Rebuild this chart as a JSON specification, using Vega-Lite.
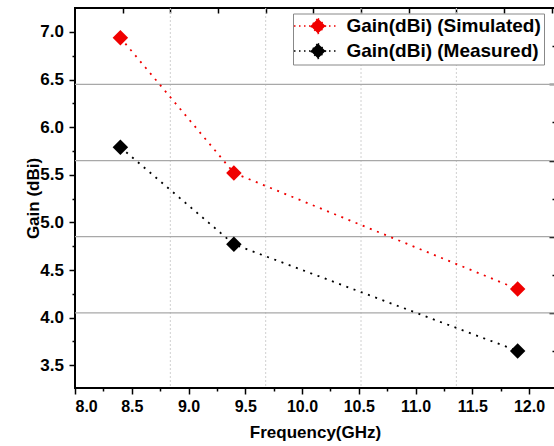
{
  "$schema": "https://vega.github.io/schema/vega-lite/v6.json",
  "width": 480,
  "height": 380,
  "autosize": {"type": "none"},
  "padding": {"left": 75, "top": 8, "right": 0, "bottom": 58},
  "background": "white",
  "config": {
    "view": {"stroke": "black", "strokeWidth": 2},
    "font": "Liberation Sans",
    "axis": {
      "labelFont": "Liberation Sans",
      "labelFontWeight": "bold",
      "labelColor": "black",
      "titleFont": "Liberation Sans",
      "titleFontWeight": "bold",
      "titleColor": "black",
      "domain": false,
      "tickColor": "black",
      "tickWidth": 1.5,
      "grid": false
    },
    "legend": {
      "orient": "none",
      "legendX": 218,
      "legendY": 5.5,
      "strokeColor": "#888888",
      "fillColor": "white",
      "padding": 3,
      "rowPadding": 4,
      "symbolOffset": 12.5,
      "symbolOpacity": 1,
      "symbolStrokeWidth": 1.5,
      "symbolDash": [1.5, 3.5],
      "labelOffset": 19,
      "labelFont": "Liberation Sans",
      "labelFontWeight": "bold",
      "labelFontSize": 19,
      "labelColor": "black",
      "labelLimit": 0
    }
  },
  "datasets": {
    "gain": [
      {"Frequency": 8.4, "Gain": 6.94, "Series": "Gain(dBi) (Simulated)"},
      {"Frequency": 9.4, "Gain": 5.52, "Series": "Gain(dBi) (Simulated)"},
      {"Frequency": 11.9, "Gain": 4.3, "Series": "Gain(dBi) (Simulated)"},
      {"Frequency": 8.4, "Gain": 5.79, "Series": "Gain(dBi) (Measured)"},
      {"Frequency": 9.4, "Gain": 4.77, "Series": "Gain(dBi) (Measured)"},
      {"Frequency": 11.9, "Gain": 3.65, "Series": "Gain(dBi) (Measured)"}
    ],
    "vgrid": [{"f": 8.84}, {"f": 9.68}, {"f": 10.52}, {"f": 11.36}],
    "hgrid": [{"g": 6.45}, {"g": 5.65}, {"g": 4.85}, {"g": 4.05}]
  },
  "layer": [
    {
      "data": {"name": "vgrid"},
      "mark": {"type": "rule", "color": "#d0d0d0", "strokeDash": [2, 2], "strokeWidth": 1},
      "encoding": {
        "x": {
          "field": "f", "type": "quantitative",
          "scale": {"domain": [8, 12.229], "nice": false, "zero": false},
          "axis": {
            "orient": "top",
            "values": [8.42, 8.84, 9.26, 9.68, 10.1, 10.52, 10.94, 11.36, 11.78, 12.2],
            "labels": false, "title": null, "tickSize": -5
          }
        }
      }
    },
    {
      "data": {"name": "hgrid"},
      "mark": {"type": "rule", "color": "#a8a8a8", "strokeWidth": 1.3},
      "encoding": {
        "y": {
          "field": "g", "type": "quantitative",
          "scale": {"domain": [3.261, 7.252], "nice": false, "zero": false},
          "axis": {
            "orient": "right",
            "values": [6.85, 6.45, 6.05, 5.65, 5.25, 4.85, 4.45, 4.05, 3.65],
            "labels": false, "title": null,
            "tickSize": {"condition": {"test": "indexof([6.45, 5.65, 4.85, 4.05], datum.value) >= 0", "value": -6}, "value": -3}
          }
        }
      }
    },
    {
      "data": {"name": "gain"},
      "mark": {"type": "line", "strokeDash": [2, 5.7], "strokeWidth": 1.8},
      "encoding": {
        "x": {
          "field": "Frequency", "type": "quantitative",
          "scale": {"domain": [8, 12.229], "nice": false, "zero": false},
          "axis": {
            "orient": "bottom",
            "values": [8, 8.25, 8.5, 8.75, 9, 9.25, 9.5, 9.75, 10, 10.25, 10.5, 10.75, 11, 11.25, 11.5, 11.75, 12],
            "labelExpr": "datum.value % 0.5 == 0 ? format(datum.value, '.1f') : ''",
            "labelFontSize": 16,
            "labelPadding": 4,
            "tickSize": {"condition": {"test": "datum.value % 0.5 != 0", "value": 3}, "value": 6},
            "title": "Frequency(GHz)",
            "titleFontSize": 17,
            "titlePadding": 10
          }
        },
        "y": {
          "field": "Gain", "type": "quantitative",
          "scale": {"domain": [3.261, 7.252], "nice": false, "zero": false},
          "axis": {
            "orient": "left",
            "values": [3.25, 3.5, 3.75, 4, 4.25, 4.5, 4.75, 5, 5.25, 5.5, 5.75, 6, 6.25, 6.5, 6.75, 7],
            "labelExpr": "datum.value % 0.5 == 0 ? format(datum.value, '.1f') : ''",
            "labelFontSize": 17,
            "labelPadding": 5.5,
            "tickSize": {"condition": {"test": "datum.value % 0.5 != 0", "value": 3}, "value": 6},
            "title": "Gain (dBi)",
            "titleFontSize": 17,
            "titlePadding": -3
          }
        },
        "color": {
          "field": "Series", "type": "nominal",
          "scale": {"domain": ["Gain(dBi) (Simulated)", "Gain(dBi) (Measured)"], "range": ["#f00000", "#000000"]},
          "legend": {
            "title": null,
            "symbolType": "M-3.2,0L2.6,0M0,-1L1,0L0,1L-1,0Z",
            "symbolSize": 225,
            "encode": {
              "symbols": {
                "update": {
                  "fill": {"scale": "color", "field": "value"},
                  "stroke": {"scale": "color", "field": "value"}
                }
              }
            }
          }
        }
      }
    },
    {
      "data": {"name": "gain"},
      "mark": {"type": "point", "filled": true, "shape": "diamond", "size": 240, "opacity": 1},
      "encoding": {
        "x": {"field": "Frequency", "type": "quantitative", "axis": null},
        "y": {"field": "Gain", "type": "quantitative", "axis": null},
        "color": {
          "field": "Series", "type": "nominal",
          "scale": {"domain": ["Gain(dBi) (Simulated)", "Gain(dBi) (Measured)"], "range": ["#f00000", "#000000"]},
          "legend": {
            "title": null,
            "symbolType": "M-3.2,0L2.6,0M0,-1L1,0L0,1L-1,0Z",
            "symbolSize": 225,
            "encode": {
              "symbols": {
                "update": {
                  "fill": {"scale": "color", "field": "value"},
                  "stroke": {"scale": "color", "field": "value"}
                }
              }
            }
          }
        }
      }
    }
  ],
  "resolve": {"axis": {"x": "independent", "y": "independent"}}
}
